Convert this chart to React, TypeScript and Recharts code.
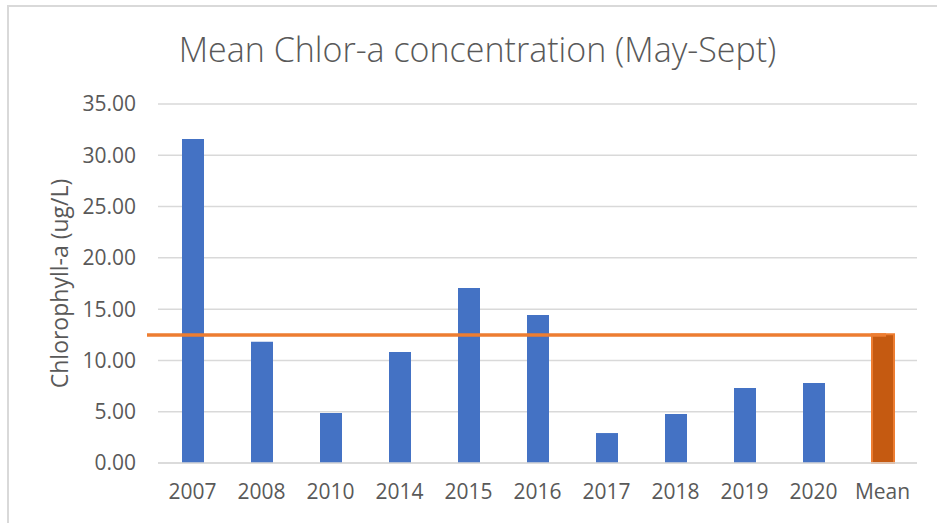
import { BarChart, Bar, XAxis, YAxis, CartesianGrid, ReferenceLine, Cell } from 'recharts';

// 年份 + 均值类别
const CATEGORIES = ['2007', '2008', '2010', '2014', '2015', '2016', '2017', '2018', '2019', '2020', 'Mean'];
const CHLOR_VALUES = [31.58, 11.82, 4.87, 10.82, 17.06, 14.42, 2.92, 4.78, 7.31, 7.8, 12.55];
const Y_TICKS = [0, 5, 10, 15, 20, 25, 30, 35];
const MEAN_LINE = 12.47;

const BLUE = '#4472C4';
const ORANGE = '#ED7D31';
const DARK_ORANGE = '#C55A11';
const TEXT = '#595959';
const GRID = '#d9d9d9';
const FONT = '"Open Sans", sans-serif';

const data = CATEGORIES.map((name, i) => ({ name, value: CHLOR_VALUES[i] }));

export default function App() {
  return (
    <div style={{ position: 'absolute', left: 0, top: 0, width: 937, height: 523, background: '#fff', fontFamily: FONT }}>
      <div
        style={{
          position: 'absolute',
          left: 7,
          top: 5,
          right: 0,
          bottom: 0,
          borderTop: `2px solid ${GRID}`,
          borderLeft: `2px solid ${GRID}`,
        }}
      />
      <div
        style={{
          position: 'absolute',
          left: 0,
          width: 955,
          top: 26,
          textAlign: 'center',
          fontSize: 34,
          fontWeight: 300,
          color: TEXT,
          lineHeight: '46px',
        }}
      >
        Mean Chlor-a concentration (May-Sept)
      </div>
      <div style={{ position: 'absolute', left: 0, top: 0 }}>
        <BarChart
          width={937}
          height={523}
          data={data}
          margin={{ top: 104, right: 20, bottom: 30, left: 20 }}
          barSize={22}
        >
          <CartesianGrid vertical={false} stroke={GRID} strokeWidth={1.5} />
          <XAxis
            dataKey="name"
            axisLine={{ stroke: GRID, strokeWidth: 1.5 }}
            tickLine={false}
            tickSize={0}
            tickMargin={21}
            tick={{ fill: TEXT, fontSize: 21, fontFamily: FONT }}
            interval={0}
          />
          <YAxis
            width={138}
            domain={[0, 35]}
            ticks={Y_TICKS}
            tickFormatter={(v) => Number(v).toFixed(2)}
            axisLine={false}
            tickLine={false}
            tickSize={0}
            tickMargin={22}
            tick={{ fill: TEXT, fontSize: 21, fontFamily: FONT }}
            label={{
              value: 'Chlorophyll-a (ug/L)',
              angle: -90,
              position: 'insideLeft',
              offset: 40,
              style: { textAnchor: 'middle', fill: TEXT, fontSize: 23, fontFamily: FONT },
            }}
          />
          <Bar dataKey="value" isAnimationActive={false}>
            {data.map((entry, index) => (
              <Cell
                key={`cell-${index}`}
                fill={entry.name === 'Mean' ? DARK_ORANGE : BLUE}
                stroke={entry.name === 'Mean' ? ORANGE : undefined}
                strokeWidth={entry.name === 'Mean' ? 2 : 0}
              />
            ))}
          </Bar>
          <ReferenceLine
            y={MEAN_LINE}
            shape={(p: any) => (
              <line x1={p.x1 - 11} y1={p.y1} x2={p.x2 - 31} y2={p.y2} stroke={ORANGE} strokeWidth={3.5} />
            )}
          />
        </BarChart>
      </div>
    </div>
  );
}
